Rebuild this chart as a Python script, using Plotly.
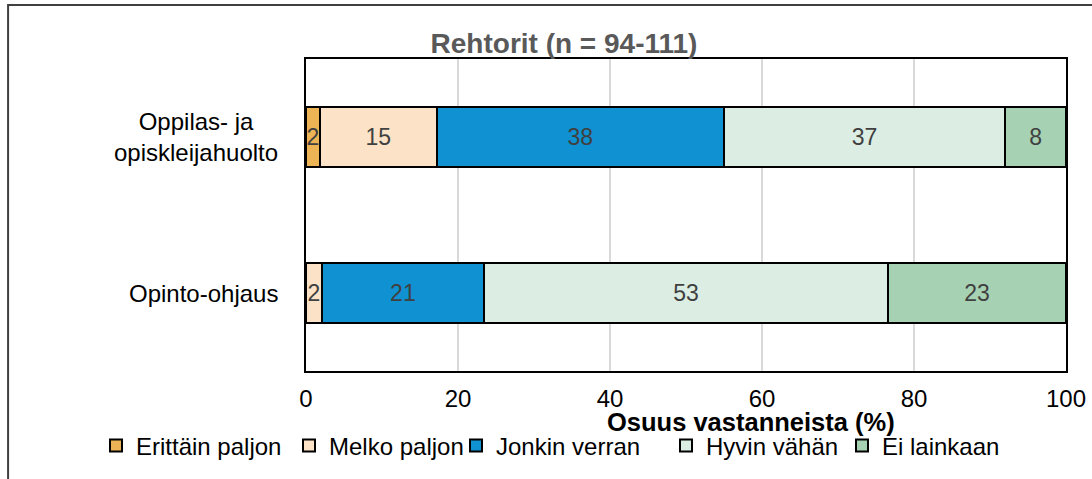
import plotly.graph_objects as go

# categories, top to bottom
categories = ['Oppilas- ja<br>opiskleijahuolto', 'Opinto-ohjaus']

# shares (%) per answer option
erittain_paljon = [1.8, 0.0]
melko_paljon = [15.4, 2.1]
jonkin_verran = [37.8, 21.3]
hyvin_vahan = [37.0, 53.2]
ei_lainkaan = [8.0, 23.4]

series_names = ['Erittäin paljon', 'Melko paljon', 'Jonkin verran', 'Hyvin vähän', 'Ei lainkaan']
series_values = [erittain_paljon, melko_paljon, jonkin_verran, hyvin_vahan, ei_lainkaan]
colors = ['#EDB456', '#FCE3C7', '#0F91D2', '#DCEEE3', '#A6D2B3']

x_ticks = [0, 20, 40, 60, 80, 100]

FONT = 'Liberation Sans, Arial, sans-serif'
W, H = 1092, 479

# one legend per series so the row keeps its spacing (left px of each entry)
legend_x = [96, 289, 456, 666, 842]

fig = go.Figure()
for i, (name, vals, col) in enumerate(zip(series_names, series_values, colors)):
    lg = 'legend' if i == 0 else 'legend{}'.format(i + 1)
    fig.add_trace(go.Bar(
        y=categories,
        x=vals,
        name=name,
        orientation='h',
        legend=lg,
        marker=dict(color=col, line=dict(color='black', width=2)),
        text=['{:.0f}'.format(v) if v > 0 else '' for v in vals],
        textposition='inside',
        insidetextanchor='middle',
        constraintext='none',
        textfont=dict(family=FONT, size=23, color='#404040'),
        hoverinfo='skip',
    ))
    fig.update_layout({lg: dict(orientation='h', xref='container', yref='container',
                                x=legend_x[i] / W, xanchor='left',
                                y=1 - 446 / H, yanchor='middle',
                                font=dict(family=FONT, size=24, color='black'),
                                itemwidth=30, bgcolor='rgba(0,0,0,0)')})

# category labels, centered lines like the original
for c in categories:
    fig.add_annotation(x=0, y=c, xref='x', yref='y', text=c, showarrow=False,
                       xanchor='right', align='center', xshift=-26,
                       font=dict(family=FONT, size=24, color='black'))

# axis title
fig.add_annotation(x=0.586, y=-0.162, xref='paper', yref='paper',
                   text='<b>Osuus vastanneista (%)</b>', showarrow=False,
                   xanchor='center', yanchor='middle',
                   font=dict(family=FONT, size=25.5, color='black'))

# outer chart frame
fig.add_shape(type='rect', xref='paper', yref='paper',
              x0=-0.392, x1=1.2, y0=-0.6, y1=1.173,
              line=dict(color='#404040', width=2), layer='below')

fig.update_layout(
    width=W, height=H,
    barmode='stack',
    bargap=0.61,
    paper_bgcolor='white',
    plot_bgcolor='white',
    margin=dict(l=306, r=26, t=59, b=108, autoexpand=False),
    title=dict(text='<b>Rehtorit (n = 94-111)</b>', x=564 / W, xanchor='center',
               y=1 - 43 / H, yanchor='middle',
               font=dict(family=FONT, size=28, color='#595959')),
    showlegend=True,
)
fig.update_xaxes(range=[0, 100], tickvals=x_ticks, showgrid=True, gridcolor='#D9D9D9',
                 gridwidth=2, showline=True, linecolor='black', linewidth=2, mirror=True,
                 ticks='', ticklabelstandoff=5,
                 tickfont=dict(family=FONT, size=24, color='black'), zeroline=False)
fig.update_yaxes(autorange='reversed', showticklabels=False, showline=True,
                 linecolor='black', linewidth=2, mirror=True, ticks='')

# drop the default 8px page margin so the figure sits at the window corner
fig.write_html('out.html', config={'displayModeBar': False},
               post_script="document.body.style.margin='0px';")
